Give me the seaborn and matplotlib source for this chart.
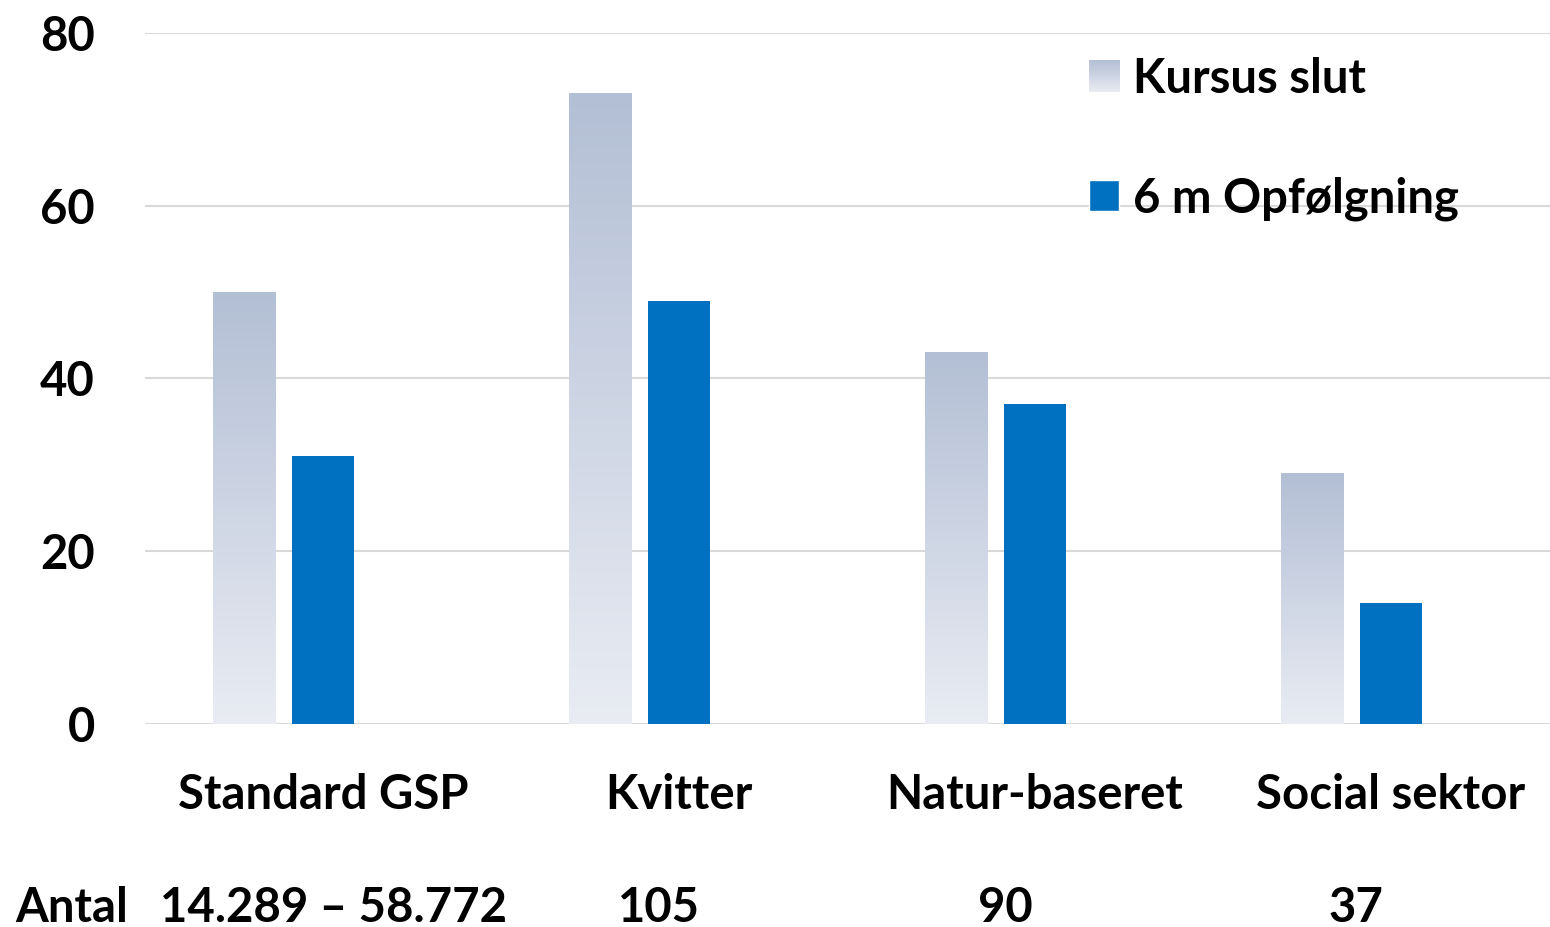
import numpy as np
import pandas as pd
import seaborn as sns
import matplotlib
import matplotlib.pyplot as plt
from matplotlib.colors import LinearSegmentedColormap
from matplotlib.legend_handler import HandlerBase
from matplotlib.image import BboxImage
from matplotlib.transforms import Bbox, TransformedBbox
from matplotlib.patches import Patch

matplotlib.use('Agg')

# Data
categories = ["Standard GSP", "Kvitter", "Natur-baseret", "Social sektor"]
kursus_slut = [50, 73, 43, 29]
opfoelgning = [31, 49, 37, 14]
antal_labels = ["14.289 – 58.772", "105", "90", "37"]

series = ["Kursus slut", "6 m Opfølgning", "tom"]

df = pd.DataFrame({
    "kategori": categories * 2,
    "serie": [series[0]] * 4 + [series[1]] * 4,
    "værdi": kursus_slut + opfoelgning,
})

GRAD_TOP = "#B3BFD5"
GRAD_BOT = "#E9ECF3"
BLUE = "#0070C0"
grad_cmap = LinearSegmentedColormap.from_list("grad", [GRAD_BOT, GRAD_TOP])

sns.set_theme(style="white")
plt.rcParams['font.family'] = ['Lato', 'DejaVu Sans']
plt.rcParams['font.weight'] = 'bold'
plt.rcParams['text.color'] = 'black'
plt.rcParams['xtick.color'] = 'black'
plt.rcParams['ytick.color'] = 'black'

fig = plt.figure(figsize=(15.5, 9.27), dpi=100)
ax = fig.add_axes([145 / 1550, 1 - 724 / 927, 1424 / 1550, 691 / 927])

sns.barplot(data=df, x="kategori", y="værdi", hue="serie",
            hue_order=series, order=categories,
            palette={series[0]: GRAD_TOP, series[1]: BLUE, series[2]: "white"},
            width=0.666, gap=0.215, saturation=1, linewidth=0,
            legend=False, ax=ax)

# gradient fill for "Kursus slut"
grad = np.linspace(0, 1, 256).reshape(-1, 1)
for bar in ax.containers[0]:
    x0, y0 = bar.get_x(), bar.get_y()
    w, h = bar.get_width(), bar.get_height()
    bar.set_visible(False)
    ax.imshow(grad, cmap=grad_cmap, origin='lower', aspect='auto',
              extent=[x0, x0 + w, y0, y0 + h], zorder=2)

ax.set_xlim(-0.5, 3.5)
ax.set_ylim(0, 80)
ax.set_yticks([0, 20, 40, 60, 80])
ax.yaxis.grid(True, color="#D9D9D9", linewidth=1.5)
ax.set_axisbelow(True)
for s in ax.spines.values():
    s.set_visible(False)
ax.set_xlabel("")
ax.set_ylabel("")
ax.tick_params(axis='y', length=0, pad=36, labelsize=34, labelcolor='black')
ax.tick_params(axis='x', length=0, pad=35, labelsize=34, labelcolor='black')
for lbl in ax.get_xticklabels() + ax.get_yticklabels():
    lbl.set_fontweight('bold')


class GradientHandler(HandlerBase):
    def create_artists(self, legend, orig_handle, xdescent, ydescent,
                       width, height, fontsize, trans):
        bb = Bbox.from_bounds(-xdescent, -ydescent, width, height)
        img = BboxImage(TransformedBbox(bb, trans), cmap=grad_cmap,
                        interpolation='bicubic', origin='lower')
        img.set_data(grad)
        return [img]


grad_handle = Patch(facecolor=GRAD_TOP)
blue_handle = Patch(facecolor=BLUE)
leg = fig.legend([grad_handle, blue_handle], series[:2],
                 handler_map={grad_handle: GradientHandler()},
                 loc='upper left', bbox_to_anchor=(1065 / 1550, 1 - 33 / 927),
                 bbox_transform=fig.transFigure, frameon=False, borderpad=0,
                 handlelength=0.64, handleheight=0.64, handletextpad=0.3,
                 labelspacing=1.6, prop={'size': 34, 'weight': 'bold'})
for t in leg.get_texts():
    t.set_color('black')

# "Antal" row below the category labels
ytxt = 1 - 908 / 927
fig.text(15 / 1550, ytxt, "Antal", ha='left', va='center',
         fontsize=34, fontweight='bold')
for xc, t in zip([334, 659, 1005, 1356], antal_labels):
    fig.text(xc / 1550, ytxt, t, ha='center', va='center',
             fontsize=34, fontweight='bold')

fig.savefig("out.png", dpi=100, facecolor='white')
